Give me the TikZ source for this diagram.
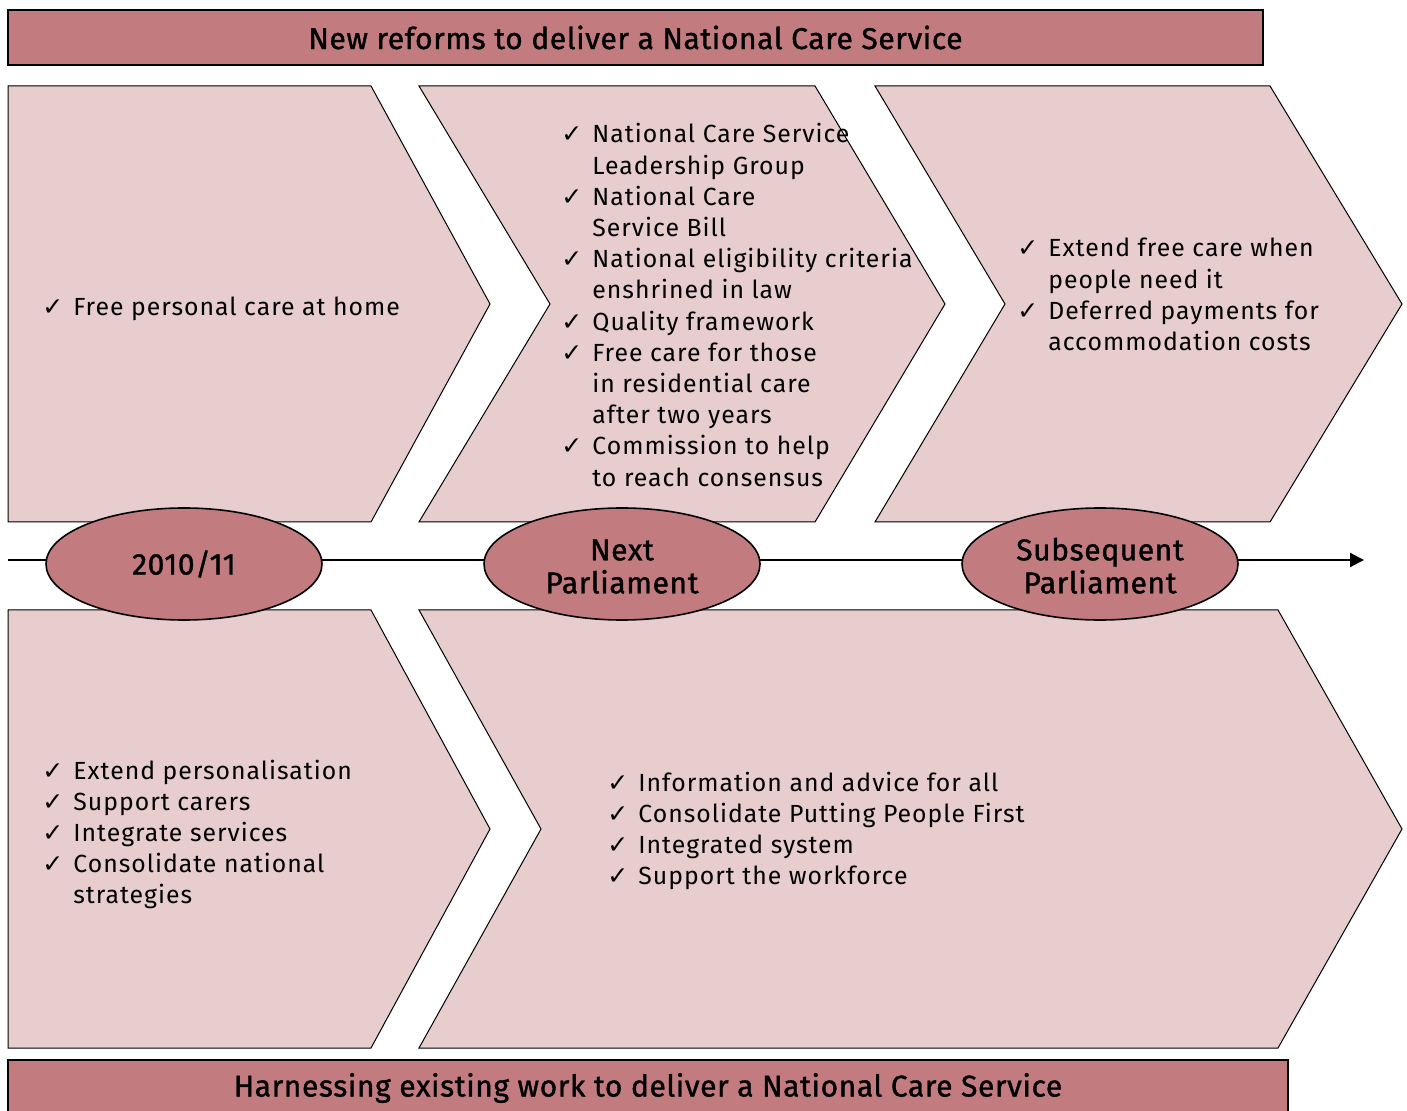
\documentclass[tikz,border=0pt]{standalone}
\usepackage{fontspec}
\setmainfont[LetterSpace=4]{Fira Sans}
\newfontfamily\headfont[FakeBold=1.2,LetterSpace=2]{Fira Sans}
\newfontfamily\symfont{DejaVu Sans}
\usetikzlibrary{shapes.geometric,arrows.meta}

\definecolor{bannerred}{RGB}{194,124,128}
\definecolor{chevronpink}{RGB}{232,205,206}

\newcommand{\tick}{\makebox[15.5pt][l]{\symfont\fontsize{12.5}{12}\selectfont ✓}}

\tikzset{
  chevron/.style={fill=chevronpink, draw=black, line width=0.5pt},
  banner/.style={rectangle, fill=bannerred, draw=black, line width=0.8pt, inner sep=0pt,
    font=\headfont\fontsize{15}{17}\selectfont},
  stage/.style={ellipse, fill=bannerred, draw=black, line width=0.8pt, inner sep=0pt,
    minimum width=138pt, minimum height=56pt, align=center,
    font=\headfont\fontsize{15}{16.5}\selectfont},
  itemlist/.style={inner sep=0pt, anchor=base west, font=\fontsize{12.4}{15.6}\selectfont},
}

\begin{document}
\begin{tikzpicture}[x=0.5pt, y=-0.5pt]
\clip (0,0) rectangle (1407,1111);
\fill[white] (0,0) rectangle (1407,1111);

% banners
\node[banner, minimum width=627.5pt, minimum height=27.5pt] (newreforms) at (635.5,37.5)
  {New reforms to deliver a National Care Service};
\node[banner, minimum width=640pt, minimum height=28pt] (harnessing) at (648,1088)
  {Harnessing existing work to deliver a National Care Service};

% top row of chevrons
\draw[chevron] (8,86) -- (371,86) -- (490,304) -- (371,522) -- (8,522) -- cycle;
\draw[chevron] (419,86) -- (815,86) -- (945,304) -- (815,522) -- (419,522) -- (550,304) -- cycle;
\draw[chevron] (875,86) -- (1270,86) -- (1402,304) -- (1270,522) -- (875,522) -- (1005,304) -- cycle;

% bottom row of chevrons
\draw[chevron] (8,610) -- (371,610) -- (490,829) -- (371,1048) -- (8,1048) -- cycle;
\draw[chevron] (419,610) -- (1278,610) -- (1402,829) -- (1278,1048) -- (419,1048) -- (541,829) -- cycle;

% time line
\coordinate (tstart) at (8,560);
\coordinate (tend) at (1364,560);
\draw[line width=1pt, -{Triangle[length=7pt,width=7pt]}] (tstart) -- (tend);

\node[stage] (now) at (184,564) {2010/11};
\node[stage] (next) at (622,564) {\rule{0pt}{13pt}Next\\Parliament};
\node[stage] (subsequent) at (1100,564) {\rule{0pt}{13pt}Subsequent\\Parliament};

% lists
\node[itemlist] (homecare) at (42,316) {\begin{tabular}[t]{@{}l@{}l@{}}
  \tick & Free personal care at home
\end{tabular}};

\node[itemlist] (nextlist) at (561,143) {\begin{tabular}[t]{@{}l@{}l@{}}
  \tick & National Care Service\\
        & Leadership Group\\
  \tick & National Care\\
        & Service Bill\\
  \tick & National eligibility criteria\\
        & enshrined in law\\
  \tick & Quality framework\\
  \tick & Free care for those\\
        & in residential care\\
        & after two years\\
  \tick & Commission to help\\
        & to reach consensus
\end{tabular}};

\node[itemlist] (laterlist) at (1017,257) {\begin{tabular}[t]{@{}l@{}l@{}}
  \tick & Extend free care when\\
        & people need it\\
  \tick & Deferred payments for\\
        & accommodation costs
\end{tabular}};

\node[itemlist] (existinglist) at (42,779) {\begin{tabular}[t]{@{}l@{}l@{}}
  \tick & Extend personalisation\\
  \tick & Support carers\\
  \tick & Integrate services\\
  \tick & Consolidate national\\
        & strategies
\end{tabular}};

\node[itemlist] (systemlist) at (607,791) {\begin{tabular}[t]{@{}l@{}l@{}}
  \tick & Information and advice for all\\
  \tick & Consolidate Putting People First\\
  \tick & Integrated system\\
  \tick & Support the workforce
\end{tabular}};
\end{tikzpicture}
\end{document}
